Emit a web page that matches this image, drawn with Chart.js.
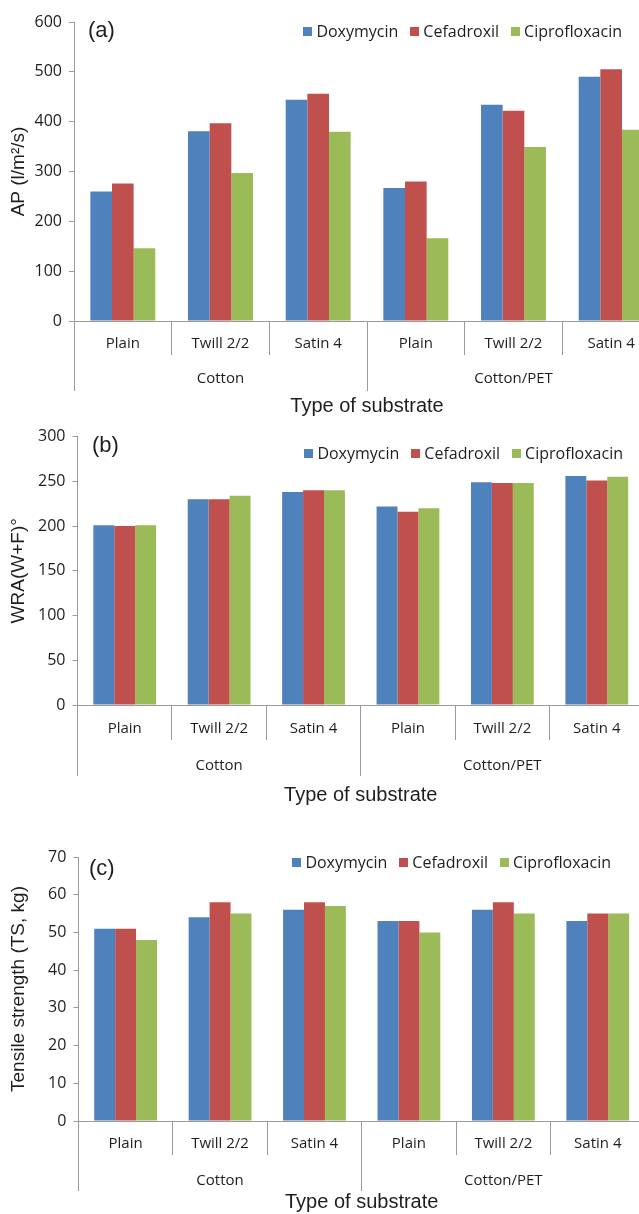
<!DOCTYPE html>
<html>
<head>
<meta charset="utf-8">
<script src="https://cdn.jsdelivr.net/npm/chart.js@4.4.1/dist/chart.umd.min.js"></script>
<style>
  html, body { margin: 0; padding: 0; background: #fff; overflow: hidden; }
  #page { position: relative; width: 639px; height: 1214px; overflow: hidden; }
  #page canvas { position: absolute; left: 0; }
  .legend { position: absolute; display: flex; align-items: center; font: 16px 'Open Sans', sans-serif; color: #1e1e1e; line-height: 18px; white-space: nowrap; }
  .legend .item { display: flex; align-items: center; margin-left: 12px; }
  .legend .item:first-child { margin-left: 0; }
  .legend .box { width: 9px; height: 9px; margin-right: 4px; }
  .tag { position: absolute; font: 22px 'Liberation Sans', Arial, sans-serif; color: #1e1e1e; line-height: 26px; }
</style>
</head>
<body>
<div id="page">
  <canvas id="chartA" width="660" height="418" style="top:0px"></canvas>
  <canvas id="chartB" width="644" height="387" style="top:420px"></canvas>
  <canvas id="chartC" width="645" height="374" style="top:840px"></canvas>
  <div class="tag" style="left:88px; top:17px">(a)</div>
  <div class="tag" style="left:92px; top:432px">(b)</div>
  <div class="tag" style="left:89px; top:855px">(c)</div>
  <div class="legend" id="legendA" style="right:17px; top:22px"></div>
  <div class="legend" id="legendB" style="right:16px; top:444px"></div>
  <div class="legend" id="legendC" style="right:28px; top:853px"></div>
</div>
<script>
// categories
const weaves = ['Plain', 'Twill 2/2', 'Satin 4', 'Plain', 'Twill 2/2', 'Satin 4'];
const substrates = ['Cotton', 'Cotton/PET'];
const drugs = ['Doxymycin', 'Cefadroxil', 'Ciprofloxacin'];

// (a) air permeability, l/m2/s
const apDoxy  = [260, 381, 444, 267, 434, 490];
const apCefa  = [276, 397, 456, 280, 422, 505];
const apCipro = [146, 297, 380, 166, 349, 384];

// (b) wrinkle recovery angle
const wraDoxy  = [201, 230, 238, 222, 249, 256];
const wraCefa  = [200, 230, 240, 216, 248, 251];
const wraCipro = [201, 234, 240, 220, 248, 255];

// (c) tensile strength, kg
const tsDoxy  = [51, 54, 56, 53, 56, 53];
const tsCefa  = [51, 58, 58, 53, 58, 55];
const tsCipro = [48, 55, 57, 50, 55, 55];

const drugColors = ['#4F81BD', '#C0504D', '#9BBB59'];
const axisGray = '#9a9a9a';
const textColor = '#1e1e1e';
const tickFont = { family: "'Open Sans', sans-serif", size: 15 };
const yTickFont = { family: "'Open Sans', sans-serif", size: 16 };
const yTitleFont = { family: "'Liberation Sans', Arial, sans-serif", size: 19 };
const xTitleFont = { family: "'Liberation Sans', Arial, sans-serif", size: 20 };

function makeChart(canvasId, legendId, series, yMax, yStep, yTitle, box) {
    var chart = new Chart(document.getElementById(canvasId), {
        type: 'bar',
        data: {
            labels: weaves,
            datasets: series.map(function (values, i) {
                return {
                    label: drugs[i],
                    data: values,
                    backgroundColor: drugColors[i],
                    borderWidth: 0,
                    categoryPercentage: 0.665,
                    barPercentage: 1
                };
            })
        },
        options: {
            responsive: false,
            animation: false,
            layout: { padding: { top: box.padTop, left: 0, right: 0, bottom: 0 } },
            plugins: { legend: { display: false }, tooltip: { enabled: false } },
            scales: {
                x: {
                    type: 'category',
                    position: 'bottom',
                    offset: true,
                    grid: { offset: true, drawOnChartArea: false, tickLength: box.innerH, color: axisGray },
                    border: { color: axisGray },
                    ticks: { font: tickFont, color: textColor, padding: box.innerPad, maxRotation: 0, autoSkip: false },
                    afterFit: function (s) { s.height = box.innerH; }
                },
                x2: {
                    type: 'category',
                    position: 'bottom',
                    labels: substrates,
                    offset: true,
                    grid: { offset: true, drawOnChartArea: false, tickLength: 36, color: axisGray },
                    border: { display: false },
                    ticks: { font: tickFont, color: textColor, padding: box.outerPad, maxRotation: 0, autoSkip: false },
                    title: { display: true, text: 'Type of substrate', font: xTitleFont, color: textColor, padding: 0 },
                    afterFit: function (s) { s.height = box.outerH; }
                },
                y: {
                    min: 0,
                    max: yMax,
                    ticks: { stepSize: yStep, font: yTickFont, color: textColor, padding: 7 },
                    grid: { drawOnChartArea: false, tickLength: 5, color: axisGray },
                    border: { color: axisGray },
                    title: { display: true, text: yTitle, font: yTitleFont, color: textColor, padding: { top: 7, bottom: 0 } },
                    afterFit: function (s) { s.width = box.yW; }
                }
            }
        }
    });

    // html legend from the chart's own datasets
    var el = document.getElementById(legendId);
    chart.data.datasets.forEach(function (ds) {
        var item = document.createElement('span');
        item.className = 'item';
        var sw = document.createElement('span');
        sw.className = 'box';
        sw.style.background = ds.backgroundColor;
        item.appendChild(sw);
        item.appendChild(document.createTextNode(ds.label));
        el.appendChild(item);
    });
    return chart;
}

makeChart('chartA', 'legendA', [apDoxy, apCefa, apCipro], 600, 100, 'AP (l/m\u00B2/s)',
    { padTop: 22, yW: 74, innerH: 34, innerPad: -20, outerH: 63, outerPad: -21 });
makeChart('chartB', 'legendB', [wraDoxy, wraCefa, wraCipro], 300, 50, 'WRA(W+F)\u00B0',
    { padTop: 14, yW: 77.5, innerH: 35, innerPad: -20, outerH: 67, outerPad: -19 });
makeChart('chartC', 'legendC', [tsDoxy, tsCefa, tsCipro], 70, 10, 'Tensile strength (TS, kg)',
    { padTop: 17, yW: 78.4, innerH: 34, innerPad: -20, outerH: 59, outerPad: -19 });
</script>
</body>
</html>
